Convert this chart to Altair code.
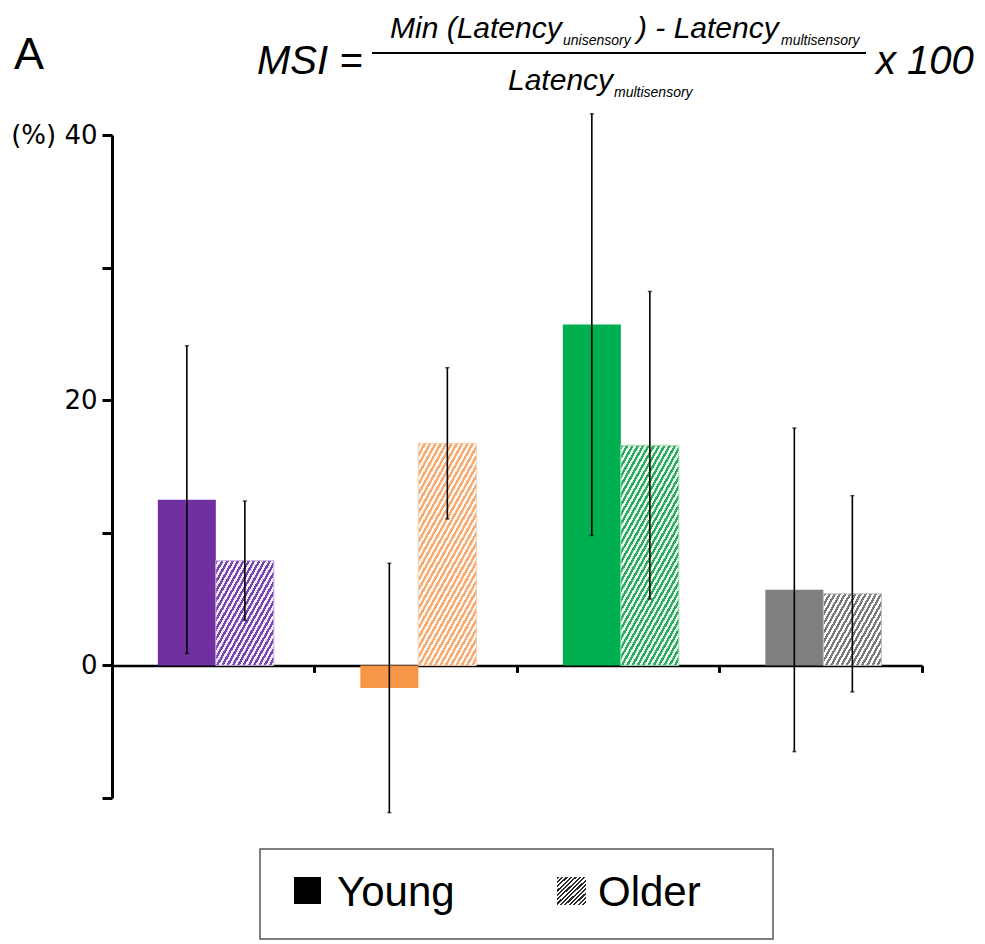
import math
import altair as alt
import pandas as pd

# ---- data ----
groups = ["C1", "C2", "C3", "C4"]
young_mean = [12.5, -1.7, 25.7, 5.7]
young_err = [11.6, 9.4, 15.9, 12.2]
older_mean = [7.9, 16.75, 16.6, 5.4]
older_err = [4.5, 5.7, 11.6, 7.4]
ages = ["Young", "Older"]
young_colors = ["#7030A0", "#F79646", "#00B050", "#7F7F7F"]
older_stripe = ["#7348AE", "#F4AA70", "#2FA862", "#7A7A7A"]
older_bg = ["#F3ECF8", "#FFF7F0", "#E6F7EC", "#FFFFFF"]
older_edge = ["#C9B3E0", "#F8CFAE", "#9EDDB6", "#BDBDBD"]
y_ticks = [-10, 0, 10, 20, 30, 40]

# ---- layout ----
W, H = 810, 663
OX, OY = 112, 135          # plot origin in page coordinates (8px page margin + padding)
YMIN, YMAX = -10, 40
PXU = H / (YMAX - YMIN)
OFF_PAD = 0.745
BAR_W = W / len(groups) / (2 + 2 * OFF_PAD)
SANS = "Liberation Sans, Arial"

rows = []
for i, g in enumerate(groups):
    rows.append({"group": g, "age": "Young", "mean": young_mean[i],
                 "lo": young_mean[i] - young_err[i], "hi": young_mean[i] + young_err[i]})
    rows.append({"group": g, "age": "Older", "mean": older_mean[i],
                 "lo": older_mean[i] - older_err[i], "hi": older_mean[i] + older_err[i]})
df = pd.DataFrame(rows)


def hatch(w, h, s, ph, fg, bg, duty=0.5):
    """Diagonal stripe fill built as a hard-stop linear gradient in bbox units."""
    r = math.sqrt(1 + s * s)
    p = ph * s / r
    n = max(1, int(math.ceil(((s * w + h) / r) / p)))
    gu, gv = s / h, 1.0 / w
    k = (gu + gv) / (gu * gu + gv * gv)
    stops = []
    for i in range(n):
        a = i / n
        b = min((i + duty) / n, 1.0)
        c = min((i + 1) / n, 1.0)
        stops += [{"offset": a, "color": fg}, {"offset": b, "color": fg},
                  {"offset": b, "color": bg}, {"offset": c, "color": bg}]
    return {"gradient": "linear", "x1": 0, "y1": 0, "x2": k * gu, "y2": k * gv, "stops": stops}


x_enc = alt.X("group:N", sort=groups,
              scale=alt.Scale(paddingInner=0, paddingOuter=0),
              axis=alt.Axis(title=None, labels=False, grid=False,
                            offset=-(H * (0 - YMIN) / (YMAX - YMIN)),
                            tickSize=7, tickWidth=3, tickColor="black",
                            domainWidth=2.5, domainColor="black", bandPosition=1))
xo_enc = alt.XOffset("age:N", sort=ages,
                     scale=alt.Scale(paddingInner=0, paddingOuter=OFF_PAD, align=0.53))
y_scale = alt.Scale(domain=[YMIN, YMAX], nice=False, zero=False)
y_axis = alt.Axis(title=None, values=y_ticks, grid=False,
                  labelExpr="datum.value == 40 ? '(%) 40' : (datum.value == 0 || datum.value == 20) ? datum.label : ''",
                  tickSize=10, tickWidth=3, tickColor="black",
                  domainWidth=3, domainColor="black",
                  labelFont="DejaVu Sans", labelFontSize=26, labelColor="black", labelPadding=5)

base = alt.Chart(df)

young = base.transform_filter(alt.datum.age == "Young").mark_bar().encode(
    x=x_enc, xOffset=xo_enc,
    y=alt.Y("mean:Q", scale=y_scale, axis=y_axis), y2=alt.datum(0),
    color=alt.Color("group:N", sort=groups,
                    scale=alt.Scale(domain=groups, range=young_colors), legend=None),
)

older_layers = []
for i, g in enumerate(groups):
    h = abs(older_mean[i]) * PXU
    older_layers.append(
        base.transform_filter((alt.datum.age == "Older") & (alt.datum.group == g))
        .mark_bar(fill=hatch(BAR_W, h, 1.8, 5.4, older_stripe[i], older_bg[i]),
                  stroke=older_edge[i], strokeWidth=1)
        .encode(x=x_enc, xOffset=xo_enc,
                y=alt.Y("mean:Q", scale=y_scale, axis=y_axis), y2=alt.datum(0))
    )

err = base.mark_rule(color="black", strokeWidth=1.6).encode(
    x=x_enc, xOffset=xo_enc,
    y=alt.Y("lo:Q", scale=y_scale, axis=y_axis), y2="hi:Q")
cap_lo = base.mark_tick(color="black", size=4, thickness=1.5).encode(
    x=x_enc, xOffset=xo_enc, y=alt.Y("lo:Q", scale=y_scale, axis=y_axis))
cap_hi = base.mark_tick(color="black", size=4, thickness=1.5).encode(
    x=x_enc, xOffset=xo_enc, y=alt.Y("hi:Q", scale=y_scale, axis=y_axis))


def one():
    return alt.Chart(pd.DataFrame({"t": [""]}))


def label(txt, px, py, size, font=SANS, style="italic", align="left"):
    return alt.Chart(pd.DataFrame({"t": [txt]})).mark_text(
        align=align, baseline="alphabetic", font=font, fontSize=size,
        fontStyle=style, color="black").encode(
        x=alt.value(px - OX), y=alt.value(py - OY), text="t:N")


annots = [
    label("A", 14, 69, 45, style="normal"),
    label("MSI =", 257, 74, 40),
    label("Min (Latency", 390, 38, 30),
    label("unisensory", 563, 45, 14),
    label(") - Latency", 637, 38, 30),
    label("multisensory", 781, 45, 14),
    label("Latency", 508, 90, 30),
    label("multisensory", 614, 97, 14),
    label("x 100", 876, 74, 40),
    one().mark_rule(color="black", strokeWidth=2).encode(
        x=alt.value(372 - OX), x2=alt.value(866 - OX), y=alt.value(53 - OY)),
    # legend box
    one().mark_rect(fill="white", stroke="#555555", strokeWidth=1.5).encode(
        x=alt.value(260 - OX), x2=alt.value(773 - OX),
        y=alt.value(849 - OY), y2=alt.value(939 - OY)),
    one().mark_rect(fill="black").encode(
        x=alt.value(294 - OX), x2=alt.value(321 - OX),
        y=alt.value(877 - OY), y2=alt.value(904 - OY)),
    one().mark_rect(fill=hatch(28, 28, 1.0, 4.4, "#2b2b2b", "#ffffff")).encode(
        x=alt.value(557 - OX), x2=alt.value(586 - OX),
        y=alt.value(877 - OY), y2=alt.value(905 - OY)),
    label("Young", 337, 906, 42, style="normal"),
    label("Older", 598, 906, 42, style="normal"),
]

chart = alt.layer(young, *older_layers, err, cap_lo, cap_hi, *annots).properties(
    width=W, height=H,
    padding={"left": OX - 8, "top": OY - 8, "right": 55, "bottom": 145},
    autosize=alt.AutoSizeParams(type="none"),
    background="white",
).configure_view(stroke=None)

chart.save("out.html", embed_options={"renderer": "svg", "actions": False})
